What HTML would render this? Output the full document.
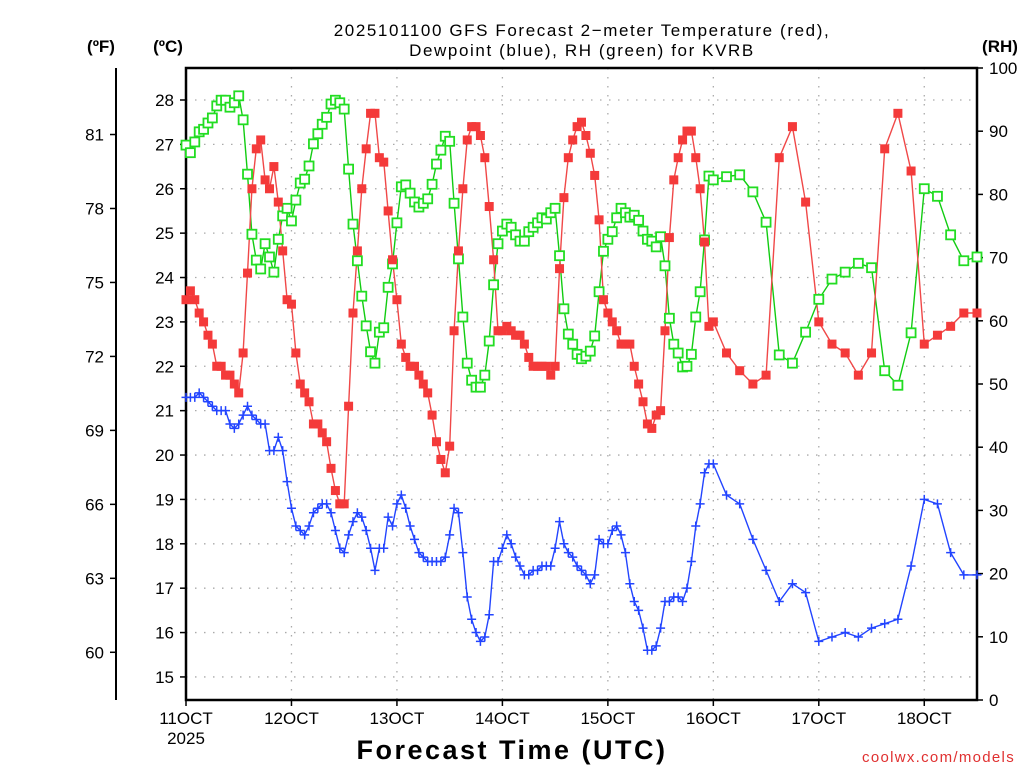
<!DOCTYPE html>
<html><head><meta charset="utf-8">
<style>
html,body{margin:0;padding:0;background:#fff;}
svg{display:block;font-family:"Liberation Sans","DejaVu Sans",sans-serif;}
</style></head>
<body>
<svg id="chart" width="1024" height="768" viewBox="0 0 1024 768" xmlns="http://www.w3.org/2000/svg">
<rect width="1024" height="768" fill="#fff"/>
<text x="582" y="36" font-size="17" text-anchor="middle" fill="#000" letter-spacing="1.6">2025101100 GFS Forecast 2−meter Temperature (red),</text>
<text x="582" y="56" font-size="17" text-anchor="middle" fill="#000" letter-spacing="1.6">Dewpoint (blue), RH (green) for KVRB</text>
<text x="101" y="52" font-size="17" font-weight="bold" text-anchor="middle">(ºF)</text>
<text x="168" y="52" font-size="17" font-weight="bold" text-anchor="middle">(ºC)</text>
<text x="1000" y="52" font-size="17" font-weight="bold" text-anchor="middle">(RH)</text>
<g id="grid"></g>
<g id="axes"></g>
<g id="series"></g>
<text x="512" y="759" font-size="27" font-weight="bold" text-anchor="middle" letter-spacing="2.5">Forecast Time (UTC)</text>
<text x="1015" y="762" font-size="15" text-anchor="end" fill="#e03030" letter-spacing="1.3">coolwx.com/models</text>
</svg>
<script>
// ---- data ----
const dayLabels = ["11OCT","12OCT","13OCT","14OCT","15OCT","16OCT","17OCT","18OCT"];
const celsiusTicks = [15,16,17,18,19,20,21,22,23,24,25,26,27,28];
const fahrenheitTicks = [60,63,66,69,72,75,78,81];
const rhTicks = [0,10,20,30,40,50,60,70,80,90,100];
const hoursHourly = [];
for (let h = 0; h <= 120; h++) hoursHourly.push(h);
const hours3h = [123,126,129,132,135,138,141,144,147,150,153,156,159,162,165,168,171,174,177,180];
const forecastHours = hoursHourly.concat(hours3h);

const temperatureC = [
23.5,23.7,23.5,23.2,23.0,22.7,22.5,22.0,22.0,21.8,
21.8,21.6,21.4,22.3,24.1,26.0,26.9,27.1,26.2,26.0,
26.5,25.7,24.6,23.5,23.4,22.3,21.6,21.4,21.2,20.7,
20.7,20.5,20.3,19.7,19.2,18.9,18.9,21.1,23.2,24.6,
26.0,26.9,27.7,27.7,26.7,26.6,25.5,24.4,23.5,22.5,
22.2,22.0,22.0,21.8,21.6,21.4,20.9,20.3,19.9,19.6,
20.2,22.8,24.6,26.0,27.1,27.4,27.4,27.2,26.7,25.6,
24.4,22.8,22.8,22.9,22.8,22.7,22.7,22.5,22.2,22.0,
22.0,22.0,22.0,21.8,22.0,24.2,25.8,26.7,27.1,27.4,
27.5,27.2,26.8,26.3,25.3,23.5,23.2,23.0,22.8,22.5,
22.5,22.5,22.0,21.6,21.2,20.7,20.6,20.9,21.0,22.8,
24.9,26.2,26.7,27.1,27.3,27.3,26.7,26.0,24.8,22.9,23.0,
22.3,21.9,21.6,21.8,26.7,27.4,25.7,23.0,22.5,22.3,21.8,22.3,26.9,27.7,26.4,22.5,22.7,22.9,23.2,23.2];

const dewpointC = [
21.3,21.3,21.3,21.4,21.3,21.2,21.1,21.0,21.0,21.0,
20.7,20.6,20.7,20.9,21.1,20.9,20.8,20.7,20.7,20.1,
20.1,20.4,20.1,19.4,18.8,18.4,18.3,18.2,18.4,18.7,
18.8,18.9,18.9,18.7,18.3,17.9,17.8,18.2,18.5,18.7,
18.6,18.3,17.9,17.4,17.9,17.9,18.6,18.4,18.9,19.1,
18.8,18.4,18.1,17.8,17.7,17.6,17.6,17.6,17.6,17.7,
18.2,18.8,18.7,17.8,16.8,16.3,16.0,15.8,15.9,16.4,
17.6,17.6,17.9,18.2,18.0,17.7,17.5,17.3,17.3,17.4,
17.4,17.5,17.5,17.5,17.9,18.5,18.0,17.8,17.7,17.5,
17.4,17.3,17.1,17.3,18.1,18.0,18.0,18.3,18.4,18.2,
17.8,17.1,16.7,16.5,16.1,15.6,15.6,15.7,16.1,16.7,
16.7,16.8,16.8,16.7,17.0,17.6,18.4,18.9,19.6,19.8,19.8,
19.1,18.9,18.1,17.4,16.7,17.1,16.9,15.8,15.9,16.0,15.9,16.1,16.2,16.3,17.5,19.0,18.9,17.8,17.3,17.3];

const relHumidity = [
87.8,86.6,88.3,89.9,90.3,91.3,92.1,94.0,94.9,94.9,
93.8,94.5,95.6,91.8,83.2,73.7,69.6,68.2,72.2,70.1,
67.7,72.9,76.6,77.8,75.8,79.1,81.8,82.4,84.5,88.0,
89.6,91.1,92.2,94.3,94.9,94.5,93.5,84.0,75.3,69.5,
63.9,59.2,55.1,53.3,58.2,58.9,65.3,69.0,75.5,81.2,
81.5,80.2,78.8,78.0,78.6,79.3,81.6,84.8,87.0,89.2,
88.4,78.6,69.8,60.6,53.3,50.6,49.5,49.5,51.4,56.8,
65.7,72.2,74.2,75.3,74.8,73.6,72.6,72.6,74.1,74.8,
75.5,76.3,76.1,77.1,77.8,70.3,61.9,57.9,56.3,54.7,
54.0,54.4,55.2,57.6,64.6,71.0,72.9,74.1,76.3,77.8,
77.1,76.4,76.7,75.9,74.2,72.9,72.6,71.7,73.3,68.7,
60.4,56.3,54.9,52.7,52.8,54.7,60.6,64.6,72.8,82.9,82.3,
82.8,83.1,80.4,75.6,54.6,53.3,58.2,63.4,66.6,67.7,69.1,68.4,52.1,49.8,58.1,80.9,79.7,73.6,69.5,70.1];

// ---- scales ----
const L = 186, R = 977, T = 68, B = 700, FX = 116;
const maxHour = 180;
function xScale(h){ return L + h * (R - L) / maxHour; }
function yC(c){ return 100 + (28 - c) * 44.38; }
function yF(f){ return yC((f - 32) / 1.8); }
function yRH(r){ return B - r * (B - T) / 100; }

const NS = "http://www.w3.org/2000/svg";
function mk(tag, attrs, parent){
  const e = document.createElementNS(NS, tag);
  for (const k in attrs) e.setAttribute(k, attrs[k]);
  parent.appendChild(e);
  return e;
}
const grid = document.getElementById('grid');
const axes = document.getElementById('axes');
const series = document.getElementById('series');

celsiusTicks.forEach(c => {
  const y = yC(c);
  const g = mk('line', {x1:L, x2:R, y1:y, y2:y, stroke:'#aaa', 'stroke-width':1.3, 'stroke-dasharray':'1.5 7.5'}, grid);
  
  
});
dayLabels.forEach((d, i) => {
  const x = xScale(i * 24);
  if (i > 0) {
    const g = mk('line', {x1:x, x2:x, y1:T, y2:B, stroke:'#aaa', 'stroke-width':1.3, 'stroke-dasharray':'1.5 7.5'}, grid);
    
    
  }
});

const frame = mk('rect', {x:L, y:T, width:R-L, height:B-T, fill:'none', stroke:'#000', 'stroke-width':2.5}, axes);


const fAxis = mk('line', {x1:FX, x2:FX, y1:T, y2:B, stroke:'#000', 'stroke-width':2}, axes);



celsiusTicks.forEach(c => {
  const y = yC(c);
  const t = mk('line', {x1:L-6, x2:L, y1:y, y2:y, stroke:'#000', 'stroke-width':1.5}, axes);
  
  
  const lb = mk('text', {x:L-12, y:y+6, 'font-size':17, 'text-anchor':'end'}, axes);
  lb.textContent = c;
  
  
});
fahrenheitTicks.forEach(f => {
  const y = yF(f);
  const t = mk('line', {x1:FX-6, x2:FX, y1:y, y2:y, stroke:'#000', 'stroke-width':1.5}, axes);
  
  
  const lb = mk('text', {x:FX-12, y:y+6, 'font-size':17, 'text-anchor':'end'}, axes);
  lb.textContent = f;
  
  
});
rhTicks.forEach(r => {
  const y = yRH(r);
  const t = mk('line', {x1:R, x2:R+6, y1:y, y2:y, stroke:'#000', 'stroke-width':1.5}, axes);
  
  
  const lb = mk('text', {x:R+12, y:y+6, 'font-size':17, 'text-anchor':'start'}, axes);
  lb.textContent = r;
  
  
});
dayLabels.forEach((d, i) => {
  const x = xScale(i * 24);
  const t = mk('line', {x1:x, x2:x, y1:B, y2:B+6, stroke:'#000', 'stroke-width':1.5}, axes);
  
  
  const lb = mk('text', {x:x, y:B+24, 'font-size':17, 'text-anchor':'middle'}, axes);
  lb.textContent = d;
  
  
});
const yr = mk('text', {x:xScale(0), y:B+44, 'font-size':17, 'text-anchor':'middle'}, axes);
yr.textContent = '2025';



function drawLine(vals, yfn, color, name){
  const pts = vals.map((v, i) => xScale(forecastHours[i]).toFixed(1) + ',' + yfn(v).toFixed(1)).join(' ');
  const pl = mk('polyline', {points:pts, fill:'none', stroke:color, 'stroke-width':1.4}, series);
  
  
}
drawLine(relHumidity, yRH, '#11cc11', 'rh-line');
drawLine(temperatureC, yC, '#f04848', 'temperature-line');
drawLine(dewpointC, yC, '#2244ff', 'dewpoint-line');

relHumidity.forEach((v, i) => {
  const x = xScale(forecastHours[i]), y = yRH(v);
  const m = mk('rect', {x:x-4.5, y:y-4.5, width:9, height:9, fill:'#fff', stroke:'#22dd22', 'stroke-width':1.8}, series);
  
  
});
temperatureC.forEach((v, i) => {
  const x = xScale(forecastHours[i]), y = yC(v);
  const m = mk('rect', {x:x-4.5, y:y-4.5, width:9, height:9, fill:'#f43a3a'}, series);
  
  
});
dewpointC.forEach((v, i) => {
  const x = xScale(forecastHours[i]), y = yC(v);
  const m = mk('path', {d:`M${x-4.5},${y}H${x+4.5}M${x},${y-4.5}V${y+4.5}`, stroke:'#2244ff', 'stroke-width':1.5, fill:'none'}, series);
  
  
});
</script>
</body></html>
